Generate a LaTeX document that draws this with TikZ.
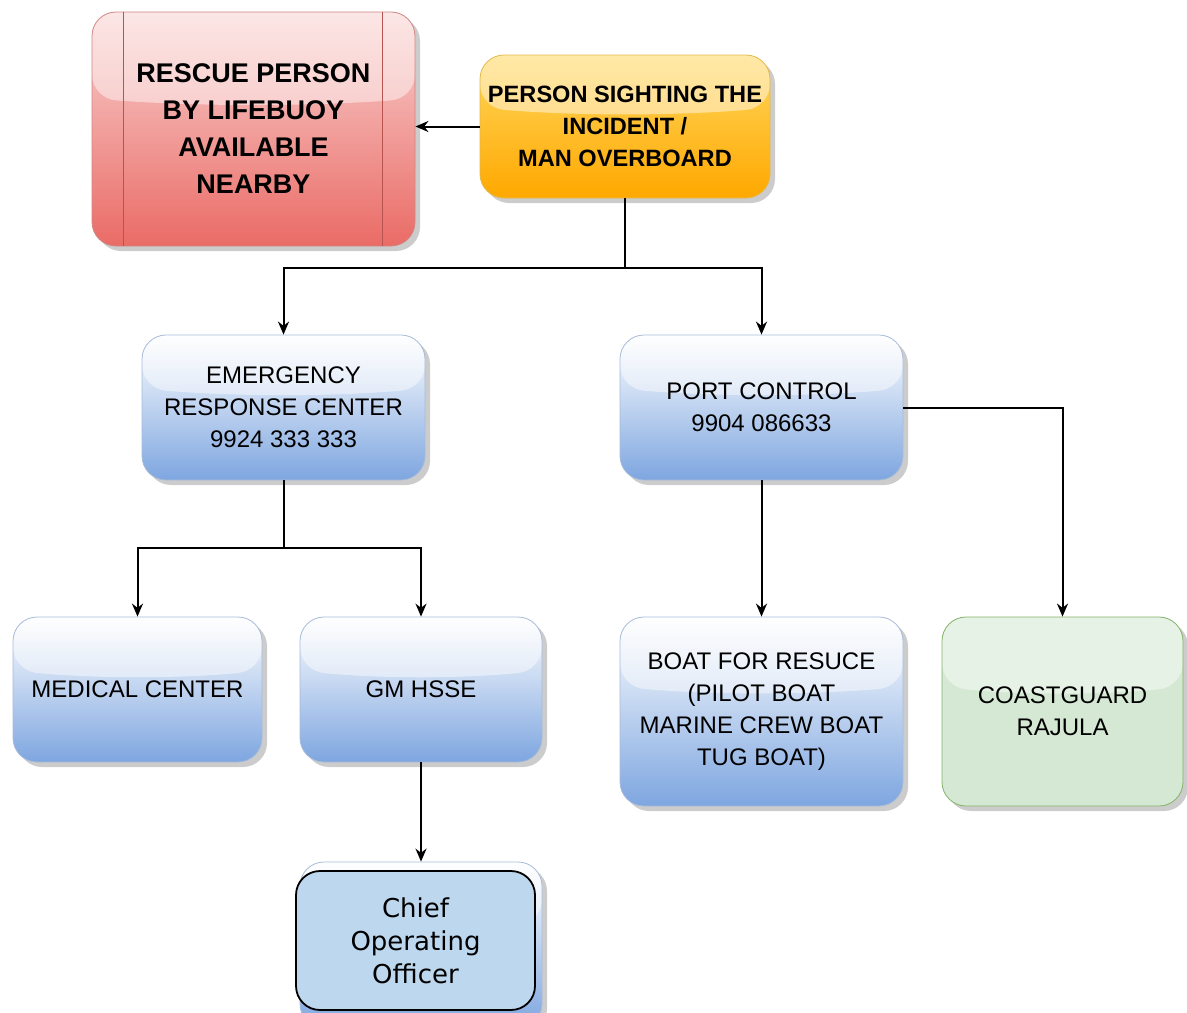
\documentclass[tikz,border=0pt]{standalone}
\usepackage{fontspec}
\setmainfont{Liberation Sans}
\newfontfamily\coofont{DejaVu Sans}
\usepackage{xcolor}
\usepackage{tikz}
\usetikzlibrary{arrows.meta,calc,positioning,shadows}
\definecolor{glassred}{HTML}{EA6B66}
\definecolor{glassredline}{HTML}{B85450}
\definecolor{glassorange}{HTML}{FFA800}
\definecolor{glassorangetop}{HTML}{FFD75E}
\definecolor{glassorangeline}{HTML}{D79B00}
\definecolor{glassblue}{HTML}{7EA6E0}
\definecolor{glassblueline}{HTML}{6C8EBF}
\definecolor{glassgreen}{HTML}{D5E8D4}
\definecolor{glassgreenline}{HTML}{82B366}
\definecolor{coofill}{HTML}{BDD7EE}
\tikzset{
  link/.style={black, line width=1pt, -{Stealth[length=6.5pt,width=5.5pt]}},
  trunk/.style={black, line width=1pt},
  gloss/.style={path picture={
      \path (path picture bounding box.north west) coordinate (gnw)
            (path picture bounding box.south east) coordinate (gse)
            ($(gnw -| gse)!0.37!(gse)$) coordinate (gright)
            ($(gnw)!0.37!(gnw |- gse)$) coordinate (gleft);
      \fill[white, opacity=0.45] (gnw) -- (gnw -| gse) -- (gright)
        .. controls ($(gright)!0.33!(gleft)+(0,-4pt)$) and ($(gright)!0.67!(gleft)+(0,-4pt)$) .. (gleft) -- cycle;
    }},
  glassbox/.style={rounded corners=12pt, align=center, inner sep=3pt, line width=0.4pt,
    drop shadow={opacity=0.4, shadow xshift=2.5pt, shadow yshift=-2.5pt}, gloss,
    font=\fontsize{12pt}{16pt}\selectfont},
  redbox/.style={glassbox, draw=glassredline!70, top color=glassred!30!white, bottom color=glassred,
    font=\bfseries\fontsize{13.5pt}{18.5pt}\selectfont},
  orangebox/.style={glassbox, draw=glassorangeline!70, top color=glassorangetop, bottom color=glassorange,
    font=\bfseries\fontsize{11.8pt}{16pt}\selectfont},
  bluebox/.style={glassbox, draw=glassblueline!60, top color=white, bottom color=glassblue},
  greenbox/.style={glassbox, draw=glassgreenline, fill=glassgreen},
  coobox/.style={rounded corners=12pt, align=center, draw=black, line width=0.9pt, fill=coofill,
    font=\coofont\fontsize{13pt}{16.5pt}\selectfont}
}
\begin{document}
\begin{tikzpicture}[x=0.5pt, y=-0.5pt]
  \useasboundingbox (0,0) rectangle (1187,1012);
  % top row
  \node[redbox, minimum width=161.5pt, minimum height=117pt] (rescue) at (253.5,129)
    {RESCUE PERSON\\BY LIFEBUOY\\AVAILABLE\\NEARBY};
  \draw[glassredline, line width=0.5pt] ([xshift=16pt]rescue.north west) -- ([xshift=16pt]rescue.south west);
  \draw[glassredline, line width=0.5pt] ([xshift=-16.5pt]rescue.north east) -- ([xshift=-16.5pt]rescue.south east);
  \node[orangebox, minimum width=145pt, minimum height=71.5pt] (person) at (625,126.5)
    {PERSON SIGHTING THE\\INCIDENT /\\MAN OVERBOARD};
  % second row
  \node[bluebox, minimum width=141.5pt, minimum height=72.5pt] (erc) at (283.5,407.5)
    {EMERGENCY\\RESPONSE CENTER\\9924 333 333};
  \node[bluebox, minimum width=141.5pt, minimum height=72.5pt] (port) at (761.5,407.5)
    {PORT CONTROL\\9904 086633};
  % third row
  \node[bluebox, minimum width=124.5pt, minimum height=72.5pt] (medical) at (137.5,689.5) {MEDICAL CENTER};
  \node[bluebox, minimum width=121pt, minimum height=72.5pt] (gmhsse) at (421,689.5) {GM HSSE};
  \node[bluebox, minimum width=141.5pt, minimum height=94.5pt] (boat) at (761.5,711.5)
    {BOAT FOR RESUCE\\(PILOT BOAT\\MARINE CREW BOAT\\TUG BOAT)};
  \node[greenbox, minimum width=120.5pt, minimum height=94.5pt] (coast) at (1062.5,711.5)
    {COASTGUARD\\RAJULA};
  % bottom
  \node[bluebox, minimum width=121pt, minimum height=83pt] (cooback) at (421,945) {};
  \node[coobox, minimum width=119.5pt, minimum height=69.5pt] (coo) at (415.5,940.5)
    {Chief\\Operating\\Officer};
  % connectors
  \coordinate (split1) at (625,268);
  \coordinate (split2) at (283.5,548);
  \draw[link] (person.west) -- (person.west -| rescue.east);
  \draw[trunk] (person.south) -- (split1);
  \draw[link] (split1) -| (erc.north);
  \draw[link] (split1) -| (port.north);
  \draw[trunk] (erc.south) -- (split2);
  \draw[link] (split2) -| (medical.north);
  \draw[link] (split2) -| (gmhsse.north);
  \draw[link] (gmhsse.south) -- (cooback.north);
  \draw[link] (port.south) -- (boat.north);
  \draw[link] (port.east) -| (coast.north);
\end{tikzpicture}
\end{document}
